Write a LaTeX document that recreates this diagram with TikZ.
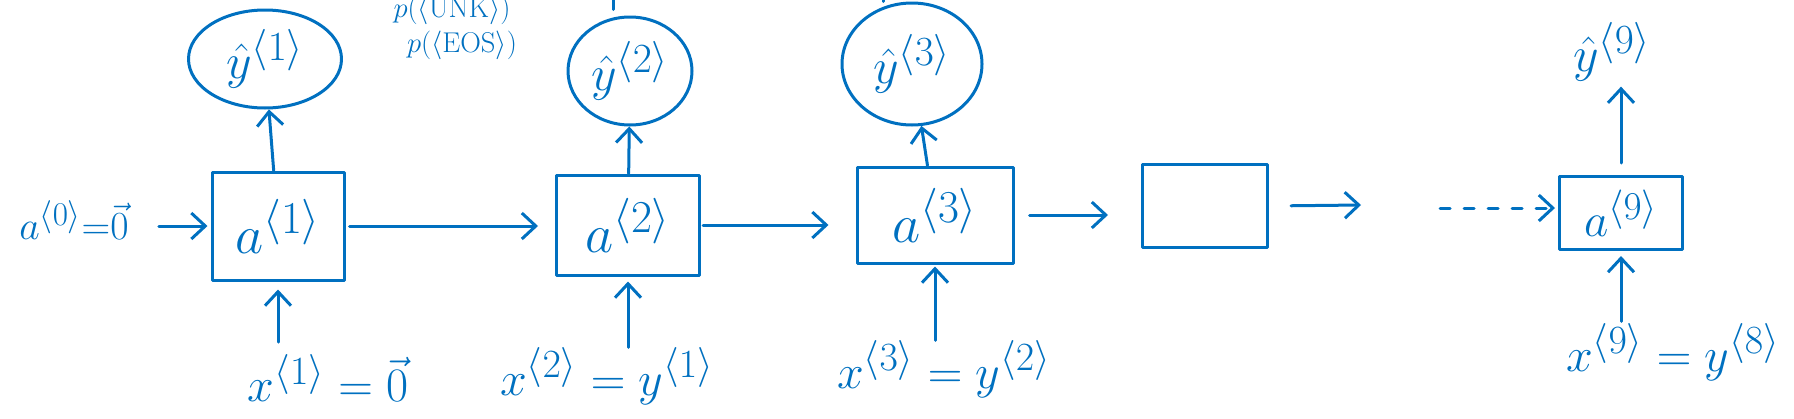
\documentclass[tikz,border=0pt]{standalone}
\usepackage{graphicx}
\usetikzlibrary{arrows.meta,shapes.geometric}
\definecolor{ink}{RGB}{0,112,192}
\newcommand{\hw}[2]{\scalebox{#1}{\Huge #2}}
\begin{document}
\begin{tikzpicture}[x=1pt,y=-1pt,
  pen/.style={draw=ink,line width=3pt,line cap=round,line join=round},
  cell/.style={pen,rectangle,inner sep=0pt,text=ink},
  outnode/.style={pen,ellipse,inner sep=0pt,text=ink},
  lbl/.style={text=ink,inner sep=0pt},
  arr/.style={draw=ink,line width=3pt,line cap=round,-{Straight Barb[length=14pt,width=26pt]}},
]
\useasboundingbox (0,0) rectangle (1794,418);

% recurrent cells
\node[cell,minimum width=132pt,minimum height=108pt] (b1) at (278,226) {\hw{2.2}{$a^{\langle 1\rangle}$}};
\node[cell,minimum width=143pt,minimum height=100pt] (b2) at (628,225) {\hw{2.2}{$a^{\langle 2\rangle}$}};
\node[cell,minimum width=156pt,minimum height=96pt]  (b3) at (935,215) {\hw{2.2}{$a^{\langle 3\rangle}$}};
\node[cell,minimum width=125pt,minimum height=83pt]  (b4) at (1205,206) {};
\node[cell,minimum width=123pt,minimum height=73pt]  (b9) at (1621,213) {\hw{1.9}{$a^{\langle 9\rangle}$}};

% outputs
\node[outnode,minimum width=153pt,minimum height=98pt]  (e1) at (265,59) {\hw{2.0}{$\hat{y}^{\langle 1\rangle}$}};
\node[outnode,minimum width=124pt,minimum height=108pt] (e2) at (630,71) {\hw{2.0}{$\hat{y}^{\langle 2\rangle}$}};
\node[outnode,minimum width=140pt,minimum height=122pt] (e3) at (912,64) {\hw{2.0}{$\hat{y}^{\langle 3\rangle}$}};
\node[lbl] (y9) at (1612,52) {\hw{2.0}{$\hat{y}^{\langle 9\rangle}$}};

% input labels
\node[lbl] (a0) at (74,220) {\hw{1.6}{$a^{\langle 0\rangle}{=}\vec{0}$}};
\node[lbl] (L1) at (328,378) {\hw{1.93}{$x^{\langle 1\rangle}=\vec{0}$}};
\node[lbl] (L2) at (607,376) {\hw{1.93}{$x^{\langle 2\rangle}=y^{\langle 1\rangle}$}};
\node[lbl] (L3) at (944,369) {\hw{1.93}{$x^{\langle 3\rangle}=y^{\langle 2\rangle}$}};
\node[lbl] (L9) at (1673,352) {\hw{1.93}{$x^{\langle 9\rangle}=y^{\langle 8\rangle}$}};

% notes
\node[lbl] (pu) at (452,10) {\hw{1.15}{$p(\langle\mathrm{UNK}\rangle)$}};
\node[lbl] (pe) at (462,45) {\hw{1.15}{$p(\langle\mathrm{EOS}\rangle)$}};

% free ends
\coordinate (c1) at (1361,205);
\coordinate (c2) at (1440,208);

% horizontal connectors
\draw[arr,shorten <=30pt,shorten >=3pt] (a0.east |- b1.west) -- (b1.west);
\draw[arr,shorten <=4pt,shorten >=17pt] (b1.east) -- (b1.east -| b2.west);
\draw[arr,shorten <=2pt,shorten >=27pt] (b2.east) -- (b2.east -| b3.west);
\draw[arr,shorten <=15pt,shorten >=33pt] (b3.east) -- (b3.east -| b4.west);
\draw[arr,shorten <=22pt] (b4.east) -- (c1);
\draw[arr,dash pattern=on 10pt off 14pt,shorten >=3pt] (c2) -- (c2 -| b9.west);

% upward connectors to outputs
\draw[arr] (b1) -- (e1);
\draw[arr] (b2) -- (e2);
\draw[arr] (b3) -- (e3);
\draw[arr,shorten <=12pt,shorten >=5pt] (b9.north) -- (y9.south -| b9.north);

% upward connectors from inputs
\draw[arr,shorten <=12pt,shorten >=8pt] (b1.south |- L1.north) -- (b1.south);
\draw[arr,shorten <=0pt,shorten >=5pt] (b2.south |- L2.north) -- (b2.south);
\draw[arr,shorten <=0pt,shorten >=2pt] (b3.south |- L3.north) -- (b3.south);
\draw[arr,shorten <=2pt,shorten >=5pt] (b9.south |- L9.north) -- (b9.south);

% cut-off strokes at the top edge
\draw[pen] (e2.north) ++(-17,-6) -- ++(0,-12);
\draw[pen] (e3.north) ++(-29,0) -- ++(0,-10);
\end{tikzpicture}
\end{document}
